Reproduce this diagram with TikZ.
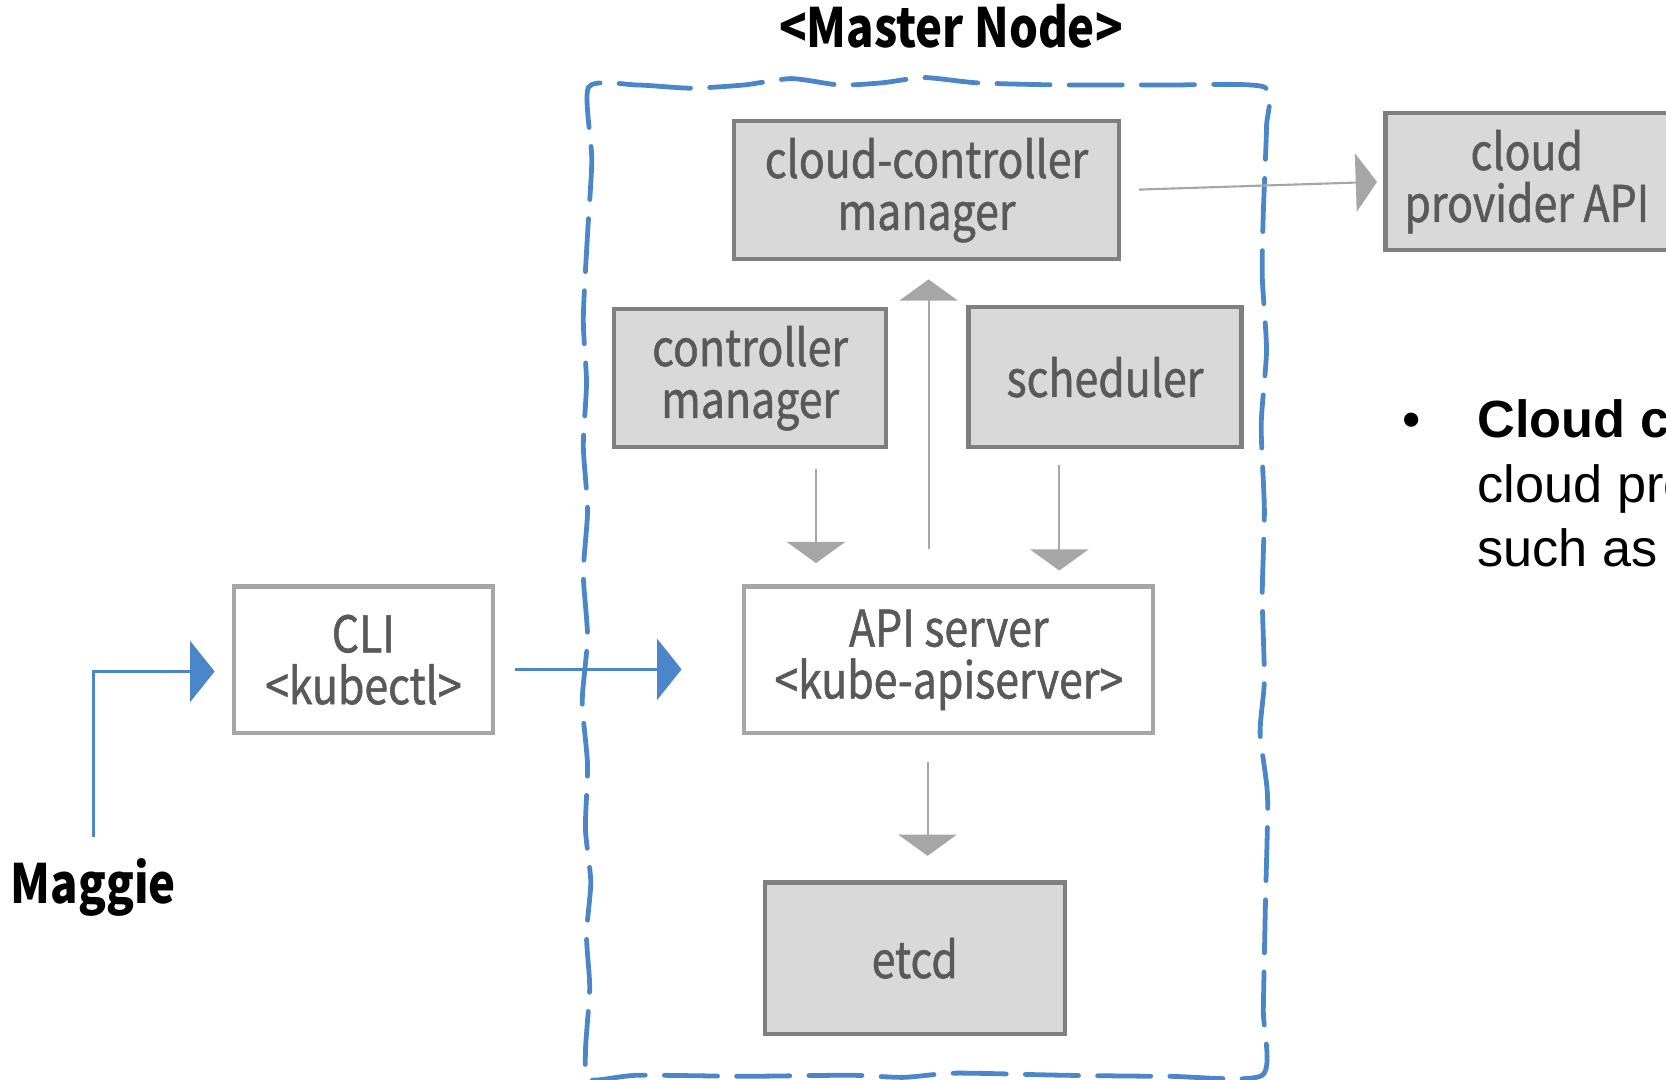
\documentclass[tikz,border=0pt]{standalone}
\usepackage{fontspec}
\setmainfont{Noto Sans CJK JP}[FakeStretch=0.84]
\newfontfamily\boxfont{Noto Sans CJK JP}[FakeStretch=0.85, FakeBold=1]
\newfontfamily\notefont{Liberation Sans}
\usetikzlibrary{arrows.meta}
\usetikzlibrary{calc}
\definecolor{boxgray}{HTML}{D9D9D9}
\definecolor{edgegray}{HTML}{7F7F7F}
\definecolor{lightedge}{HTML}{A6A6A6}
\definecolor{textgray}{HTML}{595959}
\definecolor{masterblue}{HTML}{4A86C8}

\begin{document}
\begin{tikzpicture}[x=0.1mm, y=-0.1mm,
  comp/.style={draw=edgegray, fill=boxgray, line width=0.4mm, text=textgray, align=center, inner sep=0pt, font=\boxfont\fontsize{13.5}{13.9}\selectfont},
  client/.style={comp, draw=lightedge, fill=white},
  flow/.style={draw=lightedge, line width=0.2mm, -{Triangle[length=2mm, width=5.5mm]}},
  call/.style={draw=masterblue, line width=0.3mm, -{Triangle[length=2.3mm, width=5.7mm]}},
  notetext/.style={anchor=base west, inner sep=0pt, font=\notefont\fontsize{14}{17}\selectfont}]
\useasboundingbox (0,0) rectangle (1568,1016);
\clip (0,0) rectangle (1568,1016);
\draw [masterblue, line width=0.45mm, dash pattern=on 5mm off 1.8mm, line cap=round] plot [smooth cycle, tension=0.4] coordinates {
  (554,82) (600,80) (650,83) (700,80) (745,74) (790,80) (830,78) (870,73) (920,78) (1000,80) (1100,80) (1190,82)
  (1192,120) (1189,200) (1188,260) (1192,330) (1187,400) (1190,480) (1188,560) (1190,640) (1186,690) (1193,750) (1191,850) (1189,950) (1188,1012)
  (1100,1013) (1000,1012) (900,1010) (850,1014) (800,1012) (700,1013) (600,1012) (555,1016)
  (551,990) (555,930) (552,880) (556,830) (551,780) (553,720) (548,660) (553,600) (549,540) (553,480) (549,420) (552,360) (549,300) (553,220) (557,150)};
\node [font=\fontsize{14.5}{18}\selectfont\bfseries] (title) at (895,25) {<Master Node>};
\node [comp, minimum width=36.2mm, minimum height=13mm] (ccm) at (872,179) {cloud-controller\\manager};
\node [comp, minimum width=26.6mm, minimum height=12.9mm] (cpa) at (1437,171) {cloud\\provider API};
\node [comp, minimum width=25.6mm, minimum height=13mm] (cm) at (706,356) {controller\\manager};
\node [comp, minimum width=25.7mm, minimum height=13.2mm] (sched) at (1040,355) {scheduler};
\node [client, minimum width=38.5mm, minimum height=13.8mm] (api) at (893,621) {API server\\<kube-apiserver>};
\node [comp, minimum width=28.2mm, minimum height=14.3mm] (etcd) at (861,902) {etcd};
\node [client, minimum width=24.4mm, minimum height=13.8mm] (cli) at (342,621) {CLI\\<kubectl>};
\node [font=\fontsize{14.5}{18}\selectfont\bfseries] (maggie) at (88,835) {Maggie};
\node [anchor=base, font=\notefont\fontsize{14}{17}\selectfont] (bullet) at (1329,412) {•};
\node [notetext] (note1) at (1390,412) {\bfseries Cloud co};
\node [notetext] (note2) at (1390,473) {cloud pro};
\node [notetext] (note3) at (1390,533) {such as};
\coordinate (upfoot) at ($(api.north)+(-19,0)$);
\coordinate (cmfoot) at ($(cm.south)+(62,0)$);
\coordinate (schedfoot) at ($(sched.south)+(-43,0)$);
\coordinate (apifoot) at ($(api.south)+(-20,0)$);
\draw [flow, shorten <=1.7mm, shorten >=0.6mm] (ccm.east) -- (cpa.west);
\draw [flow, shorten <=3.3mm, shorten >=1.7mm] (upfoot) -- (upfoot |- ccm.south);
\draw [flow, shorten <=1.8mm, shorten >=2mm] (cmfoot) -- (cmfoot |- api.north);
\draw [flow, shorten <=1.5mm, shorten >=1.3mm] (schedfoot) -- (schedfoot |- api.north);
\draw [flow, shorten <=2.5mm, shorten >=2.3mm] (apifoot) -- (apifoot |- etcd.north);
\draw [call, shorten <=1.9mm, shorten >=5.7mm] ([yshift=-0.9mm]cli.east) -- ([yshift=-0.9mm]api.west);
\draw [call, shorten <=0.8mm, shorten >=1.6mm] (maggie.north) |- ([yshift=-1.1mm]cli.west);
\end{tikzpicture}
\end{document}
